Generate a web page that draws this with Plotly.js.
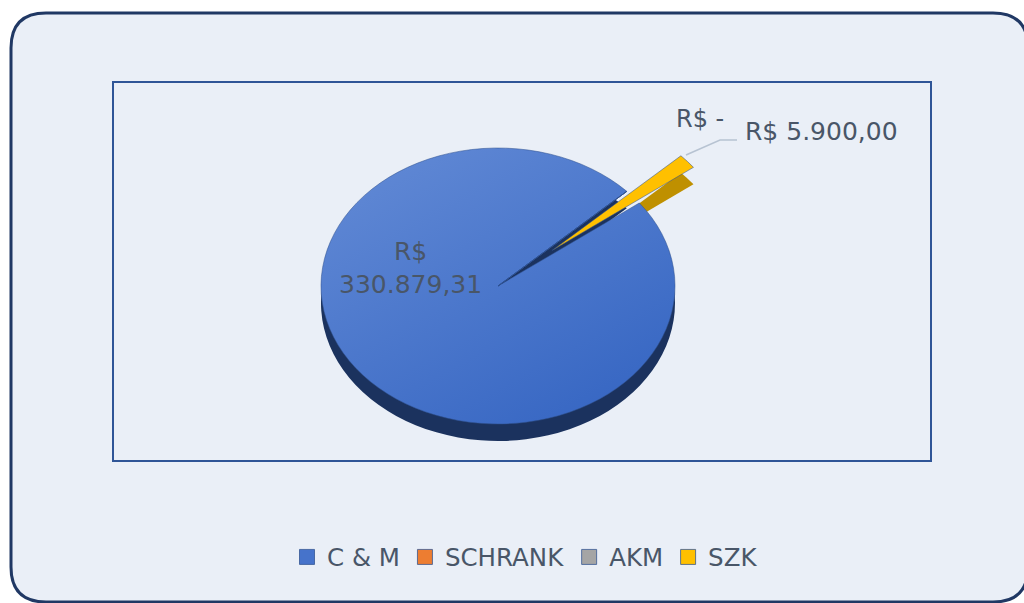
<!DOCTYPE html>
<html><head><meta charset="utf-8">
<script src="https://cdn.plot.ly/plotly-3.0.1.min.js"></script>
<style>html,body{margin:0;padding:0;background:#fff;} #chart{width:1024px;height:603px;}</style>
</head><body><div id="chart"></div>
<script>
// ---- data ----
const categories = ['C & M', 'SCHRANK', 'AKM', 'SZK'];
const values = [330879.31, 0, 0, 5900];
// ---- styles ----
const topColors = ['#4673CB', '#ED7D31', '#A5A5A5', '#FFC000'];
const sideColors = ['#1B325E', '#B65B1F', '#7C7C7C', '#BF9000'];
const pulls = [0, 0, 0, 0.4];

const W = 1024, H = 603;
const fx = x => x / W;
const fy = y => 1 - y / H;

function brl(v) {
  if (v === 0) return 'R$ -';
  const parts = v.toFixed(2).split('.');
  return 'R$ ' + parts[0].replace(/\B(?=(\d{3})+(?!\d))/g, '.') + ',' + parts[1];
}

// pie geometry (pixels)
const cx = 498, cy = 286, R = 177, depth = 17, squash = 138 / 177;
const maxPull = Math.max.apply(null, pulls);
const half = R * (1 + maxPull);
function dom(c) {
  return { x: [fx(cx - half), fx(cx + half)], y: [fy(c + half), fy(c - half)] };
}

const common = {
  type: 'pie', labels: categories, values: values, sort: false,
  direction: 'clockwise', rotation: 53, pull: pulls,
  textinfo: 'none', hoverinfo: 'skip', automargin: false
};
const shadow = Object.assign({}, common, {
  domain: dom(cy + depth), showlegend: false,
  marker: { colors: sideColors, line: { width: 0 } }
});
const main = Object.assign({}, common, {
  domain: dom(cy), showlegend: true,
  marker: { colors: topColors, line: { color: '#2F528F', width: 0.6 } }
});

// rounded outer frame
function roundRect(x0, y0, x1, y1, r) {
  const p = (x, y) => fx(x) + ',' + fy(y);
  return 'M' + p(x0 + r, y0) + ' L' + p(x1 - r, y0) + ' Q' + p(x1, y0) + ' ' + p(x1, y0 + r) +
    ' L' + p(x1, y1 - r) + ' Q' + p(x1, y1) + ' ' + p(x1 - r, y1) +
    ' L' + p(x0 + r, y1) + ' Q' + p(x0, y1) + ' ' + p(x0, y1 - r) +
    ' L' + p(x0, y0 + r) + ' Q' + p(x0, y0) + ' ' + p(x0 + r, y0) + ' Z';
}

const textColor = '#495668';
const font = 'DejaVu Sans, sans-serif';

const annotations = [
  { x: fx(410), y: fy(268), text: brl(values[0]).replace(' ', '<br>'), size: 25 },
  { x: fx(700), y: fy(119), text: brl(values[1]), size: 24 },
  { x: fx(821), y: fy(131), text: brl(values[3]), size: 25 }
].map(a => ({
  xref: 'paper', yref: 'paper', showarrow: false, xanchor: 'center', yanchor: 'middle',
  x: a.x, y: a.y, text: a.text,
  font: { family: font, size: a.size, color: textColor }
}));

const layout = {
  width: W, height: H,
  margin: { l: 0, r: 0, t: 0, b: 0 },
  paper_bgcolor: '#ffffff',
  showlegend: true,
  legend: {
    orientation: 'h', x: fx(525), xanchor: 'center', y: fy(557), yanchor: 'middle',
    font: { family: font, size: 24.5, color: textColor },
    bgcolor: 'rgba(0,0,0,0)', itemclick: false, itemdoubleclick: false,
    traceorder: 'normal'
  },
  shapes: [
    { type: 'path', xref: 'paper', yref: 'paper', layer: 'below',
      path: roundRect(11, 13, 1028, 602, 35),
      fillcolor: '#EAEFF7', line: { color: '#203864', width: 3 } },
    { type: 'rect', xref: 'paper', yref: 'paper', layer: 'below',
      x0: fx(113), x1: fx(931), y0: fy(461), y1: fy(82),
      line: { color: '#2F5597', width: 2 } },
    { type: 'path', xref: 'paper', yref: 'paper',
      path: 'M' + fx(686) + ',' + fy(155) + ' L' + fx(720) + ',' + fy(140) + ' L' + fx(737) + ',' + fy(140),
      line: { color: '#B7C3D2', width: 1.5 } }
  ],
  annotations: annotations
};

const gd = document.getElementById('chart');
Plotly.newPlot(gd, [shadow, main], layout, { staticPlot: true, displayModeBar: false }).then(function () {
  // flatten pies into a tilted (3D-looking) ellipse
  const groups = gd.querySelectorAll('.pielayer .trace');
  groups.forEach(function (g, i) {
    const c = gd.calcdata[i][0].cy;
    const prev = g.getAttribute('transform') || '';
    g.setAttribute('transform', 'matrix(1 0 0 ' + squash + ' 0 ' + (c * (1 - squash)) + ') ' + prev);
  });
  // soft light gradient on the top face of the big slice
  const NS = 'http://www.w3.org/2000/svg';
  const defs = gd.querySelector('defs');
  const grad = document.createElementNS(NS, 'linearGradient');
  grad.setAttribute('id', 'cmGrad');
  grad.setAttribute('x1', '0.15'); grad.setAttribute('y1', '0');
  grad.setAttribute('x2', '0.85'); grad.setAttribute('y2', '1');
  [['0', '#6189D5'], ['1', '#3565C2']].forEach(function (s) {
    const st = document.createElementNS(NS, 'stop');
    st.setAttribute('offset', s[0]); st.setAttribute('stop-color', s[1]);
    grad.appendChild(st);
  });
  defs.appendChild(grad);
  const topPath = groups[1].querySelector('.slice path');
  if (topPath) topPath.style.fill = 'url(#cmGrad)';
  // slightly larger legend swatches
  gd.querySelectorAll('.legend .legendpoints path').forEach(function (p) {
    const prev = p.getAttribute('transform') || '';
    p.setAttribute('transform', prev + ' scale(1.25)');
  });
});
</script>
</body></html>
